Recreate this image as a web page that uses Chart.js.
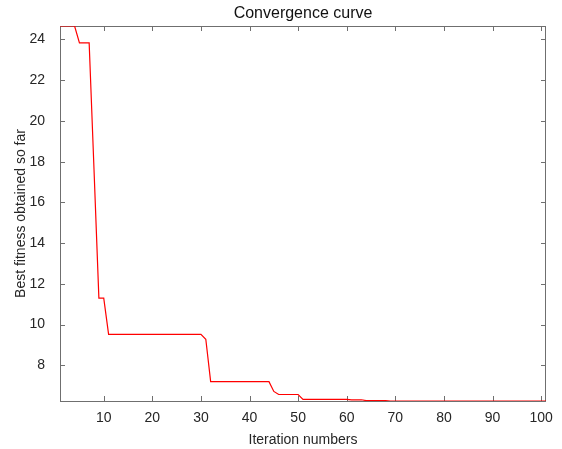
<!DOCTYPE html>
<html>
<head>
<meta charset="utf-8">
<script src="https://cdn.jsdelivr.net/npm/chart.js@4/dist/chart.umd.min.js"></script>
<style>
  body { margin: 0; background: #fff; }
  canvas { display: block; }
</style>
</head>
<body>
<canvas id="curve" width="562" height="449"></canvas>
<script>
// iterations 1..101 and best fitness per iteration
const iterations = [
  1, 2, 3, 4, 5, 6, 7, 8, 9, 10, 11, 12, 13, 14, 15, 16, 17, 18, 19, 20,
  21, 22, 23, 24, 25, 26, 27, 28, 29, 30, 31, 32, 33, 34, 35, 36, 37, 38, 39, 40,
  41, 42, 43, 44, 45, 46, 47, 48, 49, 50, 51, 52, 53, 54, 55, 56, 57, 58, 59, 60,
  61, 62, 63, 64, 65, 66, 67, 68, 69, 70, 71, 72, 73, 74, 75, 76, 77, 78, 79, 80,
  81, 82, 83, 84, 85, 86, 87, 88, 89, 90, 91, 92, 93, 94, 95, 96, 97, 98, 99, 100, 101
];
const bestFitness = [
  24.66, 24.66, 24.66, 24.66, 23.83, 23.83, 23.83, 17.6, 11.3, 11.3,
  9.52, 9.52, 9.52, 9.52, 9.52, 9.52, 9.52, 9.52, 9.52, 9.52,
  9.52, 9.52, 9.52, 9.52, 9.52, 9.52, 9.52, 9.52, 9.52, 9.52,
  9.28, 7.2, 7.2, 7.2, 7.2, 7.2, 7.2, 7.2, 7.2, 7.2,
  7.2, 7.2, 7.2, 7.2, 6.72, 6.57, 6.57, 6.57, 6.57, 6.57,
  6.33, 6.33, 6.33, 6.33, 6.33, 6.33, 6.33, 6.33, 6.33, 6.33,
  6.31, 6.31, 6.31, 6.27, 6.27, 6.27, 6.27, 6.27, 6.25, 6.25,
  6.25, 6.25, 6.25, 6.25, 6.25, 6.25, 6.25, 6.25, 6.25, 6.25,
  6.25, 6.25, 6.25, 6.25, 6.25, 6.25, 6.25, 6.25, 6.25, 6.25,
  6.25, 6.25, 6.25, 6.25, 6.25, 6.25, 6.25, 6.25, 6.25, 6.25, 6.25
];
const xTicks = [10, 20, 30, 40, 50, 60, 70, 80, 90, 100];
const yTicks = [8, 10, 12, 14, 16, 18, 20, 22, 24];

const titleText = "Convergence curve";
const xLabel = "Iteration numbers";
const yLabel = "Best fitness obtained so far";

const font = "Arial, 'Liberation Sans', Helvetica, sans-serif";
const axisColor = "#6f6f6f";
const textColor = "#262626";

// matlab style box with ticks pointing inwards + title
const matlabBox = {
  id: "matlabBox",
  beforeDatasetsDraw(chart) {
    const { ctx, chartArea: a, scales } = chart;
    ctx.save();
    ctx.strokeStyle = axisColor;
    ctx.lineWidth = 1;
    ctx.strokeRect(a.left + 0.5, a.top + 0.5, a.right - a.left - 1, a.bottom - a.top);
    ctx.beginPath();
    for (let v of xTicks) {
      const x = Math.round(scales.x.getPixelForValue(v)) + 0.5;
      ctx.moveTo(x, a.bottom);
      ctx.lineTo(x, a.bottom - 5);
      ctx.moveTo(x, a.top);
      ctx.lineTo(x, a.top + 5);
    }
    for (let v of yTicks) {
      const y = Math.round(scales.y.getPixelForValue(v)) + 0.5;
      ctx.moveTo(a.left, y);
      ctx.lineTo(a.left + 5, y);
      ctx.moveTo(a.right, y);
      ctx.lineTo(a.right - 5, y);
    }
    ctx.stroke();
    ctx.restore();
  },
  afterDraw(chart) {
    const { ctx, chartArea: a } = chart;
    ctx.save();
    ctx.fillStyle = "#111";
    ctx.font = "16px " + font;
    ctx.textAlign = "center";
    ctx.textBaseline = "middle";
    ctx.fillText(titleText, (a.left + a.right) / 2, 14);
    ctx.restore();
  },
};

new Chart(document.getElementById("curve"), {
  type: "line",
  data: {
    labels: iterations,
    datasets: [
      {
        data: iterations.map((it, i) => ({ x: it, y: bestFitness[i] })),
        borderColor: "rgb(255, 0, 0)",
        borderWidth: 1.2,
        pointRadius: 0,
        tension: 0,
      },
    ],
  },
  options: {
    responsive: false,
    animation: false,
    layout: { padding: { top: 26, right: 16, left: 0, bottom: 0 } },
    plugins: {
      legend: { display: false },
      tooltip: { enabled: false },
    },
    scales: {
      x: {
        type: "linear",
        min: iterations[0],
        max: iterations[iterations.length - 1],
        afterFit: (scale) => { scale.height = 48; },
        afterBuildTicks: (scale) => { scale.ticks = xTicks.map((v) => ({ value: v })); },
        grid: { display: false },
        border: { display: false },
        ticks: {
          padding: 1,
          color: textColor,
          font: { family: font, size: 14 },
          maxRotation: 0,
        },
        title: {
          display: true,
          text: xLabel,
          color: textColor,
          font: { family: font, size: 14 },
          padding: { top: 6, bottom: 0 },
        },
      },
      y: {
        type: "linear",
        min: Math.min(...bestFitness),
        max: Math.max(...bestFitness),
        afterFit: (scale) => { scale.width = 60; },
        afterBuildTicks: (scale) => { scale.ticks = yTicks.map((v) => ({ value: v })); },
        grid: { display: false },
        border: { display: false },
        ticks: {
          padding: 7,
          color: textColor,
          font: { family: font, size: 14 },
        },
        title: {
          display: true,
          text: yLabel,
          color: textColor,
          font: { family: font, size: 14 },
          padding: { top: 13, bottom: 0 },
        },
      },
    },
  },
  plugins: [matlabBox],
});
</script>
</body>
</html>
